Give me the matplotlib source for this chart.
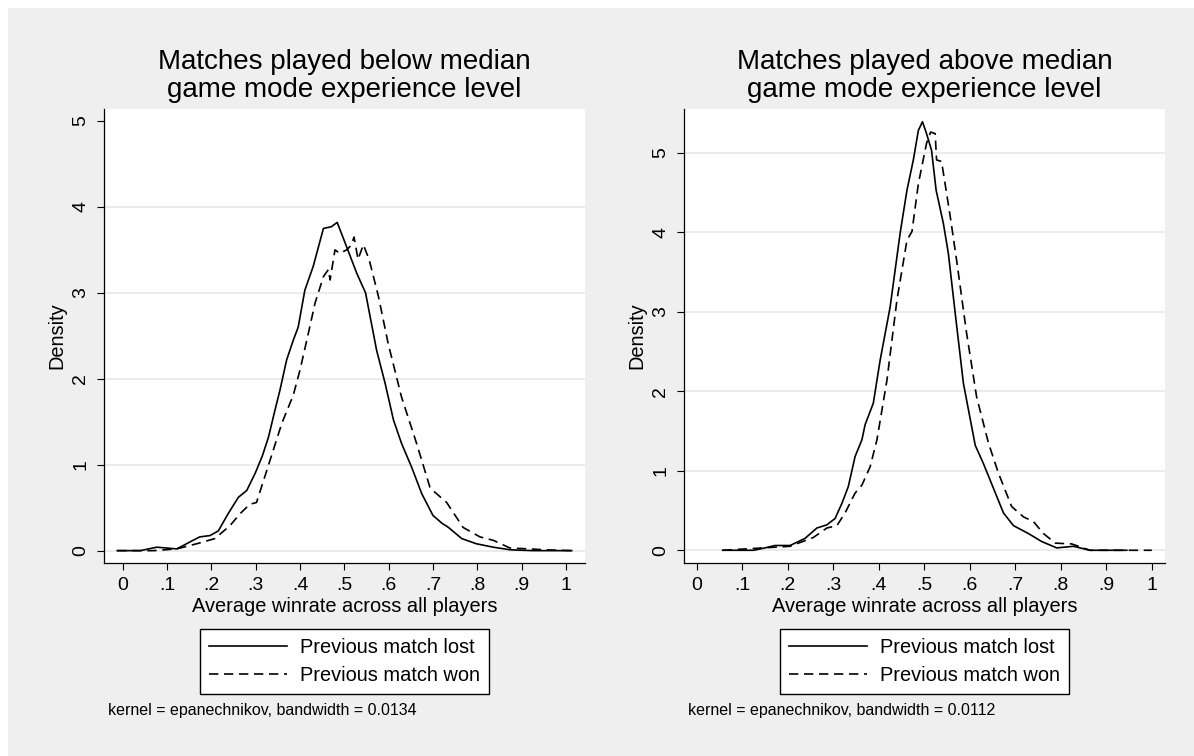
import matplotlib
matplotlib.use('Agg')
import matplotlib.pyplot as plt
from matplotlib.patches import Rectangle

# ---------------- data ----------------
titles = ["Matches played below median\ngame mode experience level",
          "Matches played above median\ngame mode experience level"]
notes = ["kernel = epanechnikov, bandwidth = 0.0134",
         "kernel = epanechnikov, bandwidth = 0.0112"]
series_labels = ["Previous match lost", "Previous match won"]
x_label = "Average winrate across all players"
y_label = "Density"
x_ticks = [0, .1, .2, .3, .4, .5, .6, .7, .8, .9, 1]
x_tick_labels = ["0", ".1", ".2", ".3", ".4", ".5", ".6", ".7", ".8", ".9", "1"]
y_ticks = [0, 1, 2, 3, 4, 5]

# left panel (below median)
left_lost_x = [-0.012, 0.04, 0.077, 0.10, 0.122, 0.137, 0.155, 0.174, 0.197, 0.216, 0.238, 0.261,
               0.28, 0.299, 0.315, 0.329, 0.342, 0.355, 0.37, 0.385, 0.396, 0.411, 0.43, 0.453,
               0.471, 0.484, 0.505, 0.528, 0.548, 0.573, 0.592, 0.611, 0.629, 0.652, 0.675, 0.70,
               0.72, 0.735, 0.765, 0.798, 0.836, 0.874, 0.926, 1.013]
left_lost_y = [0, 0, 0.04, 0.03, 0.02, 0.06, 0.11, 0.16, 0.175, 0.23, 0.43, 0.62,
               0.70, 0.9, 1.1, 1.32, 1.6, 1.87, 2.22, 2.45, 2.6, 3.03, 3.31, 3.75,
               3.77, 3.82, 3.54, 3.23, 3.0, 2.33, 1.95, 1.52, 1.25, 0.97, 0.66, 0.41,
               0.32, 0.27, 0.14, 0.08, 0.04, 0.01, 0, 0]
left_won_x = [-0.012, 0.07, 0.122, 0.167, 0.208, 0.242, 0.265, 0.287, 0.302, 0.325, 0.359, 0.385,
              0.40, 0.419, 0.434, 0.453, 0.464, 0.468, 0.479, 0.490, 0.505, 0.515, 0.522, 0.531,
              0.543, 0.556, 0.577, 0.599, 0.629, 0.663, 0.693, 0.70, 0.731, 0.768, 0.806, 0.836,
              0.874, 0.919, 0.95, 1.013]
left_won_y = [0, 0.0, 0.02, 0.08, 0.14, 0.29, 0.43, 0.54, 0.56, 0.93, 1.48, 1.81,
              2.1, 2.53, 2.88, 3.19, 3.27, 3.15, 3.5, 3.46, 3.5, 3.55, 3.65, 3.39,
              3.56, 3.39, 2.96, 2.41, 1.79, 1.25, 0.74, 0.70, 0.56, 0.27, 0.16, 0.12,
              0.03, 0.02, 0.01, 0]

# right panel (above median)
right_lost_x = [0.057, 0.125, 0.15, 0.172, 0.205, 0.238, 0.264, 0.286, 0.304, 0.319, 0.333, 0.348,
                0.363, 0.370, 0.388, 0.403, 0.425, 0.447, 0.462, 0.476, 0.487, 0.496, 0.505, 0.516,
                0.526, 0.542, 0.553, 0.568, 0.586, 0.612, 0.630, 0.652, 0.674, 0.696, 0.729, 0.758,
                0.791, 0.828, 0.864, 0.945]
right_lost_y = [0, 0, 0.03, 0.06, 0.06, 0.15, 0.28, 0.32, 0.40, 0.59, 0.80, 1.18,
                1.39, 1.58, 1.85, 2.39, 3.06, 3.99, 4.53, 4.91, 5.28, 5.39, 5.24, 5.03,
                4.53, 4.11, 3.73, 2.98, 2.10, 1.32, 1.09, 0.78, 0.47, 0.31, 0.21, 0.11,
                0.03, 0.05, 0.0, 0]
right_won_x = [0.057, 0.205, 0.256, 0.286, 0.308, 0.326, 0.348, 0.363, 0.381, 0.396, 0.418, 0.440,
               0.462, 0.473, 0.487, 0.505, 0.514, 0.524, 0.527, 0.538, 0.557, 0.571, 0.593, 0.615,
               0.641, 0.663, 0.692, 0.718, 0.740, 0.762, 0.788, 0.824, 0.864, 1.0]
right_won_y = [0, 0.05, 0.16, 0.28, 0.31, 0.47, 0.72, 0.82, 1.05, 1.39, 2.14, 3.15,
               3.90, 4.01, 4.61, 5.12, 5.26, 5.24, 4.91, 4.89, 4.2, 3.65, 2.73, 1.93,
               1.35, 0.97, 0.55, 0.42, 0.36, 0.21, 0.09, 0.08, 0.0, 0]

left_grid = [0, 1, 2, 3, 4]
right_grid = [0, 1, 2, 3, 4, 5]

# ---------------- style ----------------
plt.rcParams['font.family'] = ['Liberation Sans', 'DejaVu Sans']
W, H = 1194, 756
BG = '#efefef'
LW = 1.2
DASH = (0, (5.6, 3.4))

fig = plt.figure(figsize=(W / 100, H / 100), dpi=100, facecolor='white')
fig.patches.append(Rectangle((8 / W, 0), 1 - 8 / W, 1 - 8 / H, transform=fig.transFigure,
                             facecolor=BG, edgecolor='none', zorder=-10))

panels = [
    dict(left=104, xlim=(-0.042, 1.043), ylim=(-0.144, 5.14), grid=left_grid,
         lost=(left_lost_x, left_lost_y), won=(left_won_x, left_won_y),
         title=titles[0], note=notes[0]),
    dict(left=684, xlim=(-0.028, 1.029), ylim=(-0.16, 5.55), grid=right_grid,
         lost=(right_lost_x, right_lost_y), won=(right_won_x, right_won_y),
         title=titles[1], note=notes[1]),
]

ax_w, ax_top, ax_bot = 481, 109, 563
for p in panels:
    ax = fig.add_axes([p['left'] / W, 1 - ax_bot / H, ax_w / W, (ax_bot - ax_top) / H])
    ax.set_facecolor('white')
    for g in p['grid']:
        ax.axhline(g, color='#e6e6e6', lw=1.1, zorder=0)
    l1, = ax.plot(p['lost'][0], p['lost'][1], color='black', lw=LW, label=series_labels[0])
    l2, = ax.plot(p['won'][0], p['won'][1], color='black', lw=LW, linestyle=DASH,
                  label=series_labels[1])
    ax.set_xlim(*p['xlim'])
    ax.set_ylim(*p['ylim'])
    ax.set_xticks(x_ticks)
    ax.set_xticklabels(x_tick_labels)
    ax.set_yticks(y_ticks)
    ax.set_yticklabels([str(v) for v in y_ticks], rotation=90, va='center')
    ax.tick_params(direction='out', length=5, width=0.8, colors='black', labelsize=14)
    ax.tick_params(axis='x', pad=5)
    ax.tick_params(axis='y', pad=5.5)
    for s in ['top', 'right']:
        ax.spines[s].set_visible(False)
    for s in ['left', 'bottom']:
        ax.spines[s].set_linewidth(0.9)
        ax.spines[s].set_color('black')
    ax.set_xlabel(x_label, fontsize=14.4, labelpad=2.5)
    ax.set_ylabel(y_label, fontsize=14.4, labelpad=4)

    cx = (p['left'] + ax_w / 2) / W
    lines_t = p['title'].split('\n')
    fig.text(cx, 1 - 69 / H, lines_t[0], ha='center', va='baseline', fontsize=20)
    fig.text(cx, 1 - 97 / H, lines_t[1], ha='center', va='baseline', fontsize=20)

    leg = fig.legend(handles=[l1, l2], loc='upper center', bbox_to_anchor=(cx, 1 - 629 / H),
                     bbox_transform=fig.transFigure, fontsize=14.4, frameon=True,
                     fancybox=False, shadow=False, handlelength=3.9, handletextpad=0.65,
                     borderpad=0.45, labelspacing=0.45, borderaxespad=0)
    leg.get_frame().set_edgecolor('black')
    leg.get_frame().set_linewidth(1.0)
    leg.get_frame().set_facecolor('white')
    leg.get_frame().set_alpha(1)

    fig.text((p['left'] + 4) / W, 1 - 711 / H, p['note'], ha='left', va='center', fontsize=11.5)

fig.savefig('out.png', dpi=100, facecolor=fig.get_facecolor())
